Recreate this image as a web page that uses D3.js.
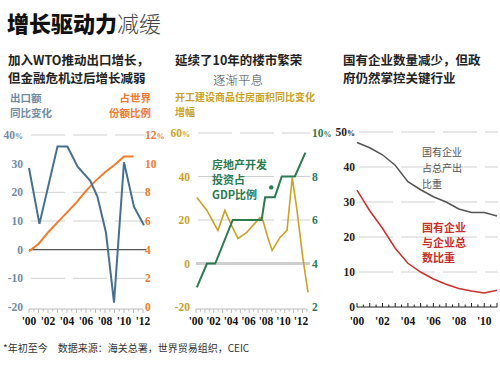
<!DOCTYPE html>
<html>
<head>
<meta charset="utf-8">
<script src="https://cdn.jsdelivr.net/npm/d3@7"></script>
<style>
    body { margin: 0; background: #fff; }
    svg { display: block; font-family: "Noto Sans CJK SC", sans-serif; }
    .num { font-family: "Liberation Serif", serif; font-weight: bold; font-size: 11.5px; }
</style>
</head>
<body>
<div id="chart"></div>
<script>
// Panel 1: exports
const exportYears = [2000, 2001.1, 2003, 2004.05, 2005.1, 2006.45, 2007.2, 2008.1, 2008.95, 2010, 2011.05, 2012.1];
const exportGrowth = [28.5, 9, 36, 36, 29, 24, 18.5, 6, -18.5, 30.5, 15, 8.5];
const shareYears = [2000, 2001, 2002, 2003, 2004, 2005, 2006, 2007, 2008, 2009, 2010, 2011];
const worldShare = [3.9, 4.4, 5.2, 5.9, 6.6, 7.3, 8.1, 8.8, 9.4, 9.9, 10.5, 10.5];
const growthTicks = [40, 30, 20, 10, 0, -10, -20];
const shareTicks = [12, 10, 8, 6, 4, 2, 0];

// Panel 2: property
const startsYears = [2000.1, 2001.25, 2002.5, 2003.3, 2003.9, 2004.8, 2005.8, 2007.3, 2007.65, 2008.2, 2008.7, 2009.6, 2010.4, 2011.0, 2011.5, 2012.2, 2012.8];
const startsGrowth = [30.3, 24.4, 15.2, 24.4, 18.9, 11.5, 14.3, 21.1, 19.8, 12, 6, 12, 15.2, 39.5, 25.7, 2.8, -13.3];
const investYears = [2000.1, 2001.25, 2002.2, 2004.2, 2007.5, 2007.9, 2009.0, 2009.8, 2011.3, 2012.5];
const investShare = [2.9, 4.0, 4.0, 6.0, 6.0, 7.05, 7.05, 8.0, 8.0, 9.1];
const startsTicks = [60, 40, 20, 0, -20];
const investTicks = [10, 8, 6, 4, 2];

// Panel 3: state firms
const soeYears = [2000, 2001, 2002, 2003, 2004, 2005, 2006, 2007, 2008, 2009, 2010, 2011];
const soeOutput = [47, 45.5, 43.5, 40.5, 35.8, 33.5, 31.5, 30, 28, 27, 27, 26];
const soeCount = [33.4, 27.5, 22.5, 16.8, 12.5, 10, 8, 6.5, 5.3, 4.6, 4, 4.8];
const soeTicks = [50, 40, 30, 20, 10, 0];

const yearLabels = ["'00", "'02", "'04", "'06", "'08", "'10", "'12"];

const W = 500, H = 365;
const svg = d3.select('#chart').append('svg').attr('width', W).attr('height', H);

// title + subtitles
const title = svg.append('text').attr('x', 7).attr('y', 32).style('font-size', '22px');
title.append('tspan').attr('font-weight', 900).attr('fill', '#111').text('增长驱动力');
title.append('tspan').attr('font-weight', 300).attr('fill', '#444').text('减缓');

function lines(x, y, arr, size, color, weight, dy) {
    arr.forEach((t, i) => {
        svg.append('text').attr('x', x).attr('y', y + i * dy)
            .style('font-size', size + 'px').attr('fill', color).attr('font-weight', weight)
            .text(t);
    });
}

lines(8, 65, ['加入WTO推动出口增长，', '但金融危机过后增长减弱'], 12.5, '#222', 'bold', 18);
lines(175, 65, ['延续了10年的楼市繁荣'], 12.5, '#222', 'bold', 18);
lines(213, 85, ['逐渐平息'], 12.5, '#444', 300, 18);
lines(343, 65, ['国有企业数量减少，但政', '府仍然掌控关键行业'], 12.5, '#222', 'bold', 18);

function grid(x0, x1, y, solid, color, width) {
    svg.append('line').attr('x1', x0).attr('x2', x1).attr('y1', y).attr('y2', y)
        .attr('stroke', color).attr('stroke-width', width)
        .attr('stroke-dasharray', solid ? null : '34,8');
}

function yearAxis(x, y, up, color) {
    const ticks = d3.range(x.domain()[0], x.domain()[1] + 0.01, 0.5);
    svg.append('line').attr('x1', x.range()[0]).attr('x2', x(ticks[ticks.length - 1]))
        .attr('y1', y).attr('y2', y).attr('stroke', color).attr('stroke-width', 1);
    ticks.forEach(t => {
        const len = Number.isInteger(t) ? 4 : 2.5;
        svg.append('line').attr('x1', x(t)).attr('x2', x(t))
            .attr('y1', y).attr('y2', up ? y - len : y + len)
            .attr('stroke', color).attr('stroke-width', 1);
    });
}

function yearLabelsAt(x, years, y) {
    years.forEach((yr, i) => {
        svg.append('text').attr('class', 'num').attr('x', x(yr)).attr('y', y)
            .attr('text-anchor', 'middle').attr('fill', '#111').text(yearLabels[i]);
    });
}

function tickLabels(scale, ticks, x, anchor, color, pct) {
    ticks.forEach((t, i) => {
        const txt = svg.append('text').attr('class', 'num').attr('x', x).attr('y', scale(t) + 4)
            .attr('text-anchor', anchor).attr('fill', color).text(t);
        if (i === 0 && pct) {
            txt.append('tspan').style('font-size', '8px').text('%');
        }
    });
}

const line = (x, y) => d3.line().x(d => x(d[0])).y(d => y(d[1]));

// ---- Panel 1
{
    const x = d3.scaleLinear().domain([2000, 2012]).range([29, 143]);
    const yL = d3.scaleLinear().domain([-20, 40]).range([307, 135]);
    const yR = d3.scaleLinear().domain([0, 12]).range([307, 135]);

    lines(10, 102, ['出口额', '同比变化'], 10.5, '#6f8ca6', 'bold', 15);
    svg.append('text').attr('x', 151).attr('y', 102).attr('text-anchor', 'end')
        .style('font-size', '10.5px').attr('font-weight', 'bold').attr('fill', '#f07a30').text('占世界');
    svg.append('text').attr('x', 151).attr('y', 117).attr('text-anchor', 'end')
        .style('font-size', '10.5px').attr('font-weight', 'bold').attr('fill', '#f07a30').text('份额比例');

    [40, 20, 10, -10].forEach(v => grid(31, 146, yL(v), false, '#d0d0d0', 1));
    grid(29, 146, yL(0), true, '#555', 1.2);
    yearAxis(x, 309, false, '#bbb');
    yearLabelsAt(x, [2000, 2002, 2004, 2006, 2008, 2010, 2012], 325);

    tickLabels(yL, growthTicks, 23, 'end', '#6f8ca6', true);
    tickLabels(yR, shareTicks, 145, 'start', '#f07a30', true);

    svg.append('path').datum(d3.zip(shareYears, worldShare))
        .attr('d', line(x, yR)).attr('fill', 'none')
        .attr('stroke', '#f37b2c').attr('stroke-width', 2);
    svg.append('path').datum(d3.zip(exportYears, exportGrowth))
        .attr('d', line(x, yL)).attr('fill', 'none')
        .attr('stroke', '#46708f').attr('stroke-width', 2);
}

// ---- Panel 2
{
    const x = d3.scaleLinear().domain([2000, 2012]).range([196, 301]);
    const yL = d3.scaleLinear().domain([-20, 60]).range([307, 133]);
    const yR = d3.scaleLinear().domain([2, 10]).range([307, 133]);

    lines(175, 101, ['开工建设商品住房面积同比变化', '增幅'], 10, '#c9a227', 'bold', 15);

    [60, 40, 20].forEach(v => grid(198, 310, yL(v), false, '#d0d0d0', 1));
    grid(196, 310, yL(0), true, '#cfcfcf', 3);
    yearAxis(d3.scaleLinear().domain([2000, 2012.5]).range([196, 306.9]), 309, false, '#bbb');
    yearLabelsAt(x, [2000, 2002, 2004, 2006, 2008, 2010, 2012], 325);

    tickLabels(yL, startsTicks, 190, 'end', '#c9a227', true);
    tickLabels(yR, investTicks, 312, 'start', '#2b7a50', true);

    lines(212, 169, ['房地产开发', '投资占', 'GDP比例'], 11, '#2b7a50', 'bold', 15);
    svg.append('circle').attr('cx', x(2008.6)).attr('cy', yR(7.5)).attr('r', 2.2).attr('fill', '#2b7a50');

    svg.append('path').datum(d3.zip(startsYears, startsGrowth))
        .attr('d', line(x, yL)).attr('fill', 'none')
        .attr('stroke', '#c9a227').attr('stroke-width', 1.6);
    svg.append('path').datum(d3.zip(investYears, investShare))
        .attr('d', line(x, yR)).attr('fill', 'none')
        .attr('stroke', '#2b7a50').attr('stroke-width', 2);
}

// ---- Panel 3
{
    const x = d3.scaleLinear().domain([2000, 2011]).range([357, 497]);
    const y = d3.scaleLinear().domain([0, 50]).range([307, 132]);

    [50, 40, 30, 20, 10].forEach(v => grid(359, 498, y(v), false, '#d0d0d0', 1));
    yearAxis(x, y(0), true, '#222');
    yearLabelsAt(x, [2000, 2002, 2004, 2006, 2008, 2010], 325);
    tickLabels(y, soeTicks, 355, 'end', '#222', true);

    lines(422, 156, ['国有企业', '占总产出', '比重'], 10, '#555', 'normal', 16);
    lines(422, 232, ['国有企业', '与企业总', '数比重'], 11, '#c9302c', 'bold', 15);

    svg.append('path').datum(d3.zip(soeYears, soeOutput))
        .attr('d', line(x, y)).attr('fill', 'none')
        .attr('stroke', '#555').attr('stroke-width', 1.5);
    svg.append('path').datum(d3.zip(soeYears, soeCount))
        .attr('d', line(x, y)).attr('fill', 'none')
        .attr('stroke', '#c9302c').attr('stroke-width', 1.5);
}

// footnote
lines(3, 352, ['*年初至今　数据来源：海关总署，世界贸易组织，CEIC'], 10, '#333', 'normal', 0);
</script>
</body>
</html>
